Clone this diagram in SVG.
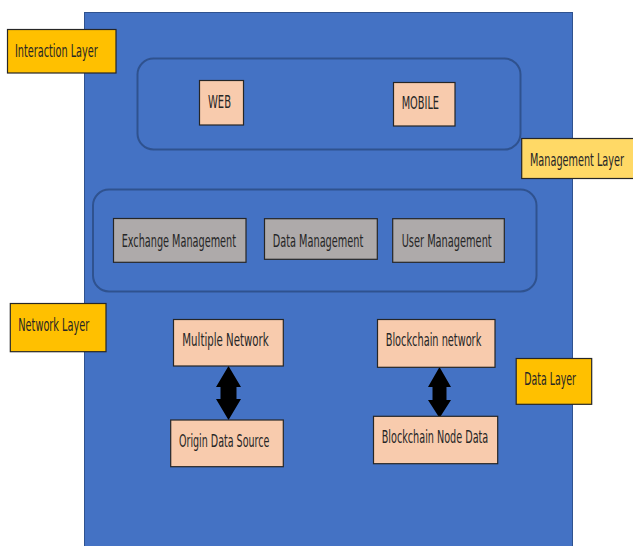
<svg xmlns="http://www.w3.org/2000/svg" width="633" height="546" viewBox="0 0 633 546">
  <defs>
    <style>
      .panel { fill: #4472C4; stroke: #2F528F; stroke-width: 1; }
      .group { fill: none; stroke: #2F528F; stroke-width: 2; }
      .peach { fill: #F8CBAD; stroke: #262626; stroke-width: 1.2; }
      .grey { fill: #AEAAAA; stroke: #262626; stroke-width: 1.2; }
      .layer { fill: #FFC000; stroke: #262626; stroke-width: 1.2; }
      .layer-light { fill: #FFD966; stroke: #262626; stroke-width: 1.2; }
      .label { font-family: "Liberation Sans Narrow", "DejaVu Sans Condensed", "Liberation Sans", sans-serif; font-size: 17px; fill: #262626; }
      .arrow { fill: #000000; }
    </style>
  </defs>

  <rect width="633" height="546" fill="#FFFFFF"/>

  <!-- main background panel -->
  <rect class="panel" x="84.5" y="12.5" width="488" height="540"/>

  <!-- grouping outlines -->
  <rect class="group" x="137.5" y="58.5" width="383" height="91" rx="16"/>
  <rect class="group" x="93" y="189.5" width="443.5" height="102" rx="16"/>

  <!-- connectors -->
  <g id="connectors">
    <polygon class="arrow" points="228.5,366 241,387 236.5,387 236.5,399 241,399 228.5,420 216,399 220.5,399 220.5,387 216,387"/>
    <polygon class="arrow" points="439.5,367 451,387 446.5,387 446.5,400 451,400 439.5,418 428,400 432.5,400 432.5,387 428,387"/>
  </g>

  <g id="interaction-layer">
    <rect class="layer" x="7.5" y="29.5" width="108.5" height="43.5"/>
    <text class="label" x="15" y="56.5" textLength="82.7" lengthAdjust="spacingAndGlyphs">Interaction Layer</text>
  </g>

  <g id="web">
    <rect class="peach" x="199.5" y="80.5" width="44" height="44.5"/>
    <text class="label" x="208" y="107.5" textLength="23" lengthAdjust="spacingAndGlyphs">WEB</text>
  </g>

  <g id="mobile">
    <rect class="peach" x="393.5" y="82.5" width="61.5" height="43.5"/>
    <text class="label" x="401.7" y="109.3" textLength="37.3" lengthAdjust="spacingAndGlyphs">MOBILE</text>
  </g>

  <g id="management-layer">
    <rect class="layer-light" x="521.7" y="138.5" width="113" height="40"/>
    <text class="label" x="530" y="165.7" textLength="94" lengthAdjust="spacingAndGlyphs">Management Layer</text>
  </g>

  <g id="exchange-management">
    <rect class="grey" x="113.5" y="218.5" width="132.5" height="43.8"/>
    <text class="label" x="121.7" y="246.7" textLength="114.3" lengthAdjust="spacingAndGlyphs">Exchange Management</text>
  </g>

  <g id="data-management">
    <rect class="grey" x="264.5" y="218.7" width="112.8" height="40.6"/>
    <text class="label" x="272.7" y="246.7" textLength="90.6" lengthAdjust="spacingAndGlyphs">Data Management</text>
  </g>

  <g id="user-management">
    <rect class="grey" x="392.7" y="218.7" width="111.6" height="43.6"/>
    <text class="label" x="401.7" y="246.7" textLength="90" lengthAdjust="spacingAndGlyphs">User Management</text>
  </g>

  <g id="network-layer">
    <rect class="layer" x="10.3" y="303.5" width="95.7" height="48.2"/>
    <text class="label" x="18.3" y="330.7" textLength="71" lengthAdjust="spacingAndGlyphs">Network Layer</text>
  </g>

  <g id="multiple-network">
    <rect class="peach" x="173.5" y="319.5" width="109.8" height="46.5"/>
    <text class="label" x="182.3" y="346" textLength="86.4" lengthAdjust="spacingAndGlyphs">Multiple Network</text>
  </g>

  <g id="origin-data-source">
    <rect class="peach" x="170.7" y="420" width="112.6" height="46.7"/>
    <text class="label" x="179" y="446.7" textLength="90.3" lengthAdjust="spacingAndGlyphs">Origin Data Source</text>
  </g>

  <g id="blockchain-network">
    <rect class="peach" x="377.5" y="319.5" width="117.5" height="47.8"/>
    <text class="label" x="385.7" y="346" textLength="95.6" lengthAdjust="spacingAndGlyphs">Blockchain network</text>
  </g>

  <g id="blockchain-node-data">
    <rect class="peach" x="373.5" y="416.3" width="124.2" height="47.4"/>
    <text class="label" x="381.7" y="443.3" textLength="106.6" lengthAdjust="spacingAndGlyphs">Blockchain Node Data</text>
  </g>

  <g id="data-layer">
    <rect class="layer" x="516.2" y="358.5" width="75.5" height="45.8"/>
    <text class="label" x="524.3" y="385" textLength="51.7" lengthAdjust="spacingAndGlyphs">Data Layer</text>
  </g>
</svg>
